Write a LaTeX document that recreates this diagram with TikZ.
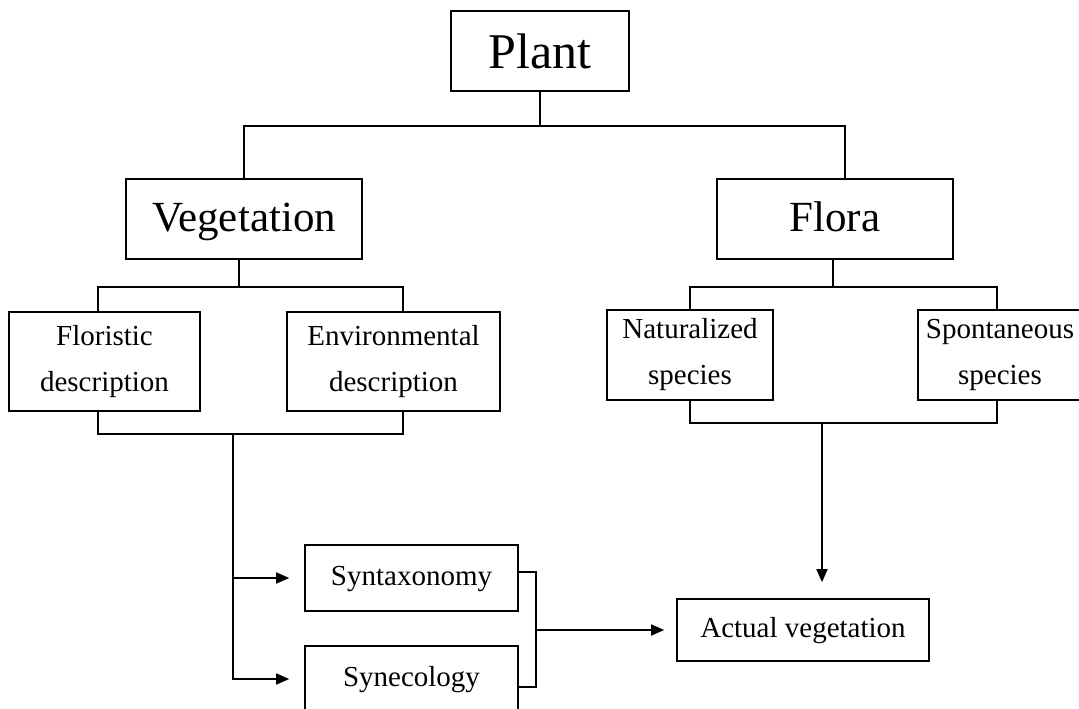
\documentclass[tikz,border=0pt]{standalone}
\usepackage{fontspec}
\setmainfont{Liberation Serif}
\usetikzlibrary{arrows.meta,calc}
\begin{document}
\begin{tikzpicture}[x=1pt,y=-1pt,
  box/.style={draw, line width=1.6pt, inner sep=0pt, align=center, font=\fontsize{29}{46}\selectfont},
  onebox/.style={box, text height=20pt, text depth=6pt},
  bigbox/.style={box, font=\fontsize{43}{50}\selectfont, text height=30pt, text depth=6pt},
  link/.style={draw, line width=1.6pt},
  arr/.style={link, -{Triangle[length=13pt,width=11pt]}}]
\useasboundingbox (0,0) rectangle (1079,709);
\clip (0,0) rectangle (1079,709);
\fill[white] (0,0) rectangle (1079,709);

\node[box, minimum width=178pt, minimum height=80pt, font=\fontsize{50}{60}\selectfont] (plant) at (540,51) {Plant};
\node[bigbox, minimum width=236pt, minimum height=80pt] (veg) at (244,219) {Vegetation};
\node[bigbox, minimum width=236pt, minimum height=80pt] (flora) at (835,219) {Flora};
\node[box, minimum width=191pt, minimum height=99pt] (flor) at (104.5,361.5) {Floristic\\description};
\node[box, minimum width=213pt, minimum height=99pt] (env) at (393.5,361.5) {Environmental\\description};
\node[box, minimum width=166pt, minimum height=90pt] (nat) at (690,355) {Naturalized\\species};
\node[box, minimum width=164pt, minimum height=90pt] (spon) at (1000,355) {Spontaneous\\species};
\node[onebox, minimum width=213pt, minimum height=66pt] (syn) at (411.5,578) {Syntaxonomy};
\node[onebox, minimum width=213pt, minimum height=66pt] (sync) at (411.5,679) {Synecology};
\node[onebox, minimum width=252pt, minimum height=62pt] (act) at (803,630) {Actual vegetation};

% Plant split
\draw[link] (plant.south) -- ++(0,34) coordinate (pj);
\draw[link] (veg.north) |- (pj) -| ([xshift=10pt]flora.north);

% Vegetation split
\draw[link] ([xshift=-5pt]veg.south) -- ++(0,27) coordinate (vj);
\draw[link] ([xshift=-6.5pt]flor.north) |- (vj) -| ([xshift=9.5pt]env.north);

% merge below floristic / environmental
\coordinate (fj) at (233,434);
\draw[link] ([xshift=-6.5pt]flor.south) |- (fj) -| ([xshift=9.5pt]env.south);
\draw[arr, shorten >=15pt] (fj) |- (sync.west);
\draw[arr, shorten >=15pt] (fj |- syn.west) -- (syn.west);

% Flora split
\draw[link] ([xshift=-2pt]flora.south) -- ++(0,27) coordinate (fl);
\draw[link] (nat.north) |- (fl) -| ([xshift=-3pt]spon.north);
\coordinate (nj) at (822,423);
\draw[link] (nat.south) |- (nj) -| ([xshift=-3pt]spon.south);
\draw[arr, shorten >=16pt] (nj) -- (nj |- act.north);

% bracket to actual vegetation
\coordinate (bj) at (536,630);
\draw[link] ([yshift=6pt]syn.east) -| (bj) |- ([yshift=-8pt]sync.east);
\draw[arr, shorten >=12pt] (bj) -- (act.west);
\end{tikzpicture}
\end{document}
